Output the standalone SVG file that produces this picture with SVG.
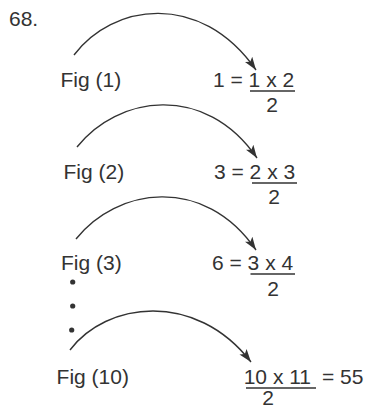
<svg xmlns="http://www.w3.org/2000/svg" width="365" height="409" viewBox="0 0 365 409">
<style>
text{font-family:"Liberation Sans",Arial,sans-serif;font-size:21px;fill:#333}
.arc{fill:none;stroke:#333;stroke-width:1.4}
.ul{stroke:#333;stroke-width:1.6}
.dot{fill:#333}
</style>
<defs>
<marker id="ah" viewBox="0 0 13 9" refX="13" refY="4.5" markerWidth="13" markerHeight="9" markerUnits="userSpaceOnUse" orient="auto">
<path d="M0,0 L13,4.5 L0,9 L3,4.5 Z" fill="#333"/>
</marker>
</defs>
<text id="title" x="9" y="26">68.</text>
<g id="connectors">
<path class="arc" d="M74,55 C112,4 200,-10 256,70" marker-end="url(#ah)"/>
<path class="arc" d="M77,147 C117,96 205,82 257,158" marker-end="url(#ah)"/>
<path class="arc" d="M76,239 C116,188 204,174 256,250" marker-end="url(#ah)"/>
<path class="arc" d="M70,350 C106,302 195,290 251,362" marker-end="url(#ah)"/>
</g>
<g id="fig1">
<text x="60.5" y="87">Fig (1)</text>
<text x="213" y="87">1 = 1 x 2</text>
<line class="ul" x1="250" y1="91" x2="295" y2="91"/>
<text x="272" y="112" text-anchor="middle">2</text>
</g>
<g id="fig2">
<text x="63.5" y="179">Fig (2)</text>
<text x="214" y="179">3 = 2 x 3</text>
<line class="ul" x1="252" y1="183" x2="297" y2="183"/>
<text x="274" y="204" text-anchor="middle">2</text>
</g>
<g id="fig3">
<text x="61" y="270">Fig (3)</text>
<text x="212" y="270">6 = 3 x 4</text>
<line class="ul" x1="250.5" y1="274" x2="295" y2="274"/>
<text x="273" y="296" text-anchor="middle">2</text>
</g>
<g id="dots">
<circle class="dot" cx="72.7" cy="282" r="2.6"/>
<circle class="dot" cx="72.7" cy="306" r="2.6"/>
<circle class="dot" cx="71.7" cy="330" r="2.6"/>
</g>
<g id="fig10">
<text x="56.6" y="384">Fig (10)</text>
<text x="243.7" y="384">10 x 11</text>
<text x="322" y="384">= 55</text>
<line class="ul" x1="246" y1="388" x2="316" y2="388"/>
<text x="268" y="405" text-anchor="middle">2</text>
</g>
</svg>
